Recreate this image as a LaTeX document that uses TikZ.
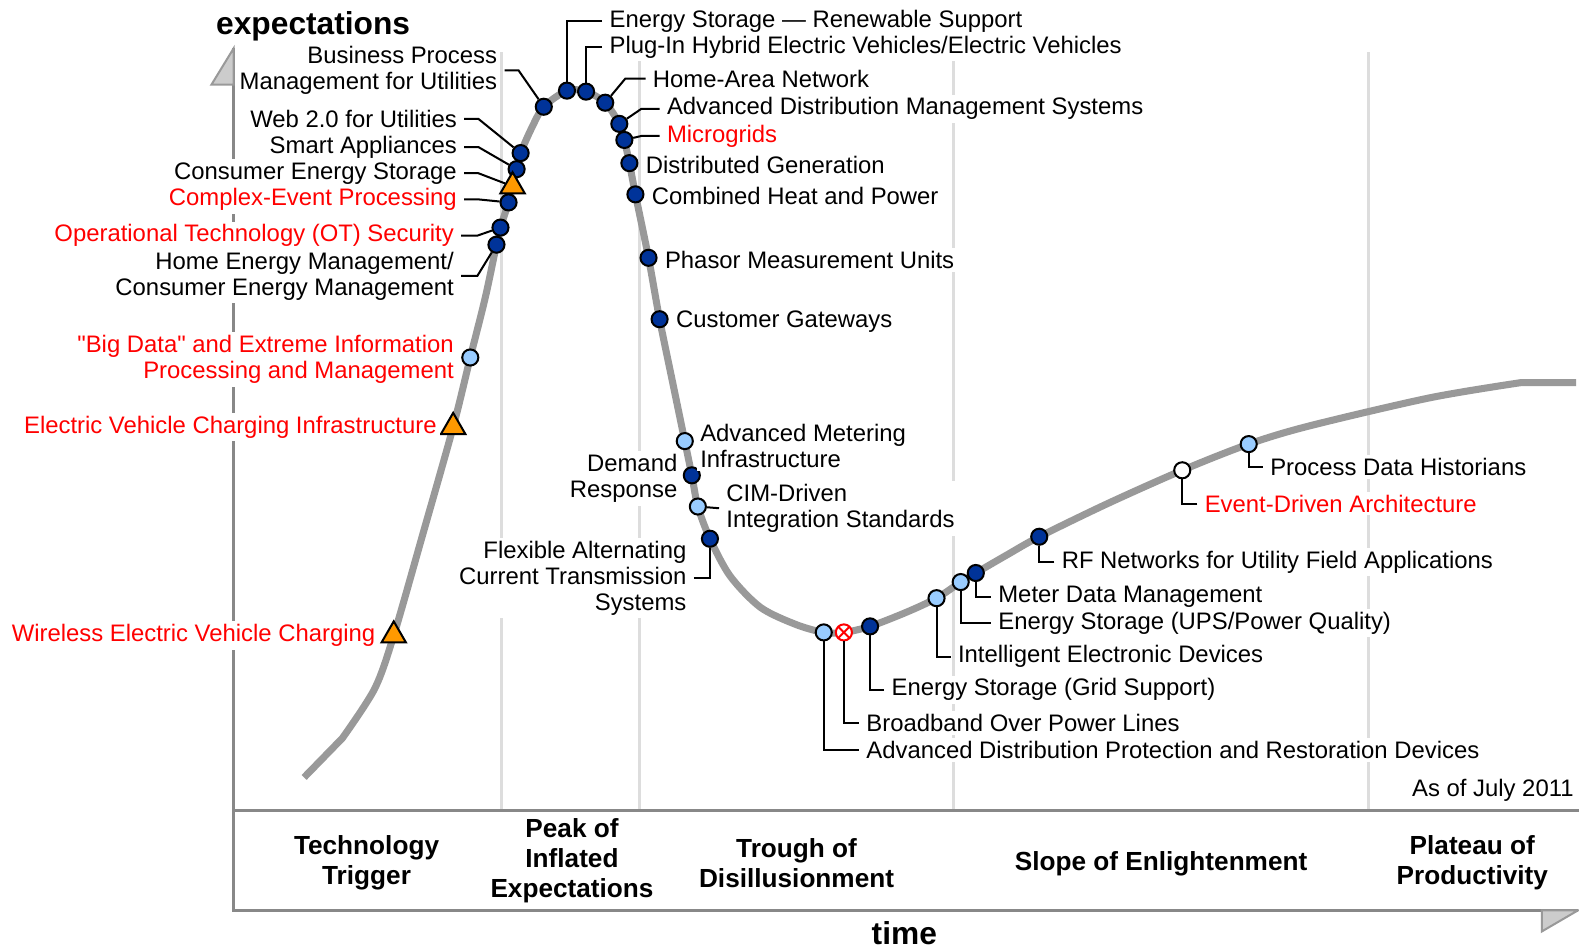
\documentclass[tikz,border=0pt]{standalone}
\usepackage{fontspec}
\setmainfont{Liberation Sans}[Ligatures=TeXOff]
\usepackage{tikz}
\usetikzlibrary{positioning,shapes.geometric}
\definecolor{curvegray}{HTML}{999999}
\definecolor{gridgray}{HTML}{DDDDDD}
\definecolor{axisgray}{HTML}{888888}
\definecolor{headgray}{HTML}{CCCCCC}
\definecolor{darkblue}{HTML}{003399}
\definecolor{lightblue}{HTML}{99CCFF}
\definecolor{hypeorange}{HTML}{FF9900}
\definecolor{hypered}{HTML}{FF0000}

\begin{document}
\begin{tikzpicture}[x=0.5pt,y=-0.5pt,
	lbl/.style={font=\fontsize{11.85}{13}\selectfont,fill=white,inner sep=1.5pt,yshift=-1pt},
	hot/.style={lbl,text=hypered},
	phase/.style={font=\fontsize{13}{15}\selectfont\bfseries,align=center,inner sep=0pt,yshift=-1.5pt},
	axtitle/.style={font=\fontsize{15.75}{18}\selectfont\bfseries,inner sep=0pt},
	link/.style={draw=black,line width=1pt,shorten <=2pt},
	dot/.style={circle,draw=black,line width=1pt,minimum size=8pt,inner sep=0pt},
	tenyr/.style={dot,fill=darkblue},
	fiveyr/.style={dot,fill=lightblue},
	twoyr/.style={dot,fill=white},
	moreyr/.style={regular polygon,regular polygon sides=3,draw=black,line width=1pt,fill=hypeorange,minimum size=14pt,inner sep=0pt},
	obsolete/.style={dot,draw=hypered,fill=white,path picture={\draw[hypered,line width=1pt] (path picture bounding box.north west) -- (path picture bounding box.south east) (path picture bounding box.south west) -- (path picture bounding box.north east);}},
	gridline/.style={draw=gridgray,line width=1.5pt},
	axis/.style={draw=axisgray,line width=1.5pt},
	axishead/.style={draw=curvegray,fill=headgray,line width=1pt,line join=miter},
	hypecurve/.style={draw=curvegray,line width=3.5pt}
	]
	\useasboundingbox (0,0) rectangle (1568,942);

	\foreach \gx in {498,635,947,1359}
		\draw[gridline] (\gx,52) -- (\gx,805);
	\draw[axis] (232,48) -- (232,904) -- (1567,904);
	\draw[axis] (232,805) -- (1568,805);
	\filldraw[axishead] (232,48) -- (210,84) -- (232,84) -- cycle;
	\filldraw[axishead] (1567,904) -- (1531,925) -- (1531,904) -- cycle;

	\draw[hypecurve] (302,772) -- (340,733) -- plot[smooth,tension=0.5] coordinates {(340,733) (372,684) (391,631) (420,530) (450,424) (467,355) (482,295) (493,243) (497,226) (505,201) (509,185) (513,168) (517,152) (528,127) (540,106) (563,90) (582,91) (601,102) (615,123) (620,139) (625,162) (631,193) (644,256) (655,317) (668,380) (680,438) (687,472) (693,503) (705,535) (725,572) (755,603) (790,620) (818,628) (838,628) (864,622) (900,608) (930,594) (954,578) (969,569) (1000,551) (1032,533) (1100,500) (1174,467) (1240,441) (1300,423) (1420,395) (1510,380)} -- (1565,380);

	\node[axtitle] (ylab) at (311,26) {expectations};
	\node[axtitle] (xlab) at (898,927) {time};
	\node[lbl,anchor=east,fill=none] (asof) at (1566,783) {As of July 2011};

	\node[phase] (trigger) at (364,854) {Technology\\Trigger};
	\node[phase] (peak) at (568,852) {Peak of\\Inflated\\Expectations};
	\node[phase] (trough) at (791,854) {Trough of\\Disillusionment};
	\node[phase] (slope) at (1153,855) {Slope of Enlightenment};
	\node[phase] (plateau) at (1462,854) {Plateau of\\Productivity};

	\node[tenyr] (m1) at (540,106) {};
	\node[tenyr] (m2) at (517,152) {};
	\node[tenyr] (m3) at (513,168) {};
	\node[moreyr] (m4) at (509,185) {};
	\node[tenyr] (m5) at (505,201) {};
	\node[tenyr] (m6) at (497,226) {};
	\node[tenyr] (m7) at (493,243) {};
	\node[fiveyr] (m8) at (467,355) {};
	\node[moreyr] (m9) at (450,424) {};
	\node[moreyr] (m10) at (391,631) {};
	\node[tenyr] (m11) at (563,90) {};
	\node[tenyr] (m12) at (582,91) {};
	\node[tenyr] (m13) at (601,102) {};
	\node[tenyr] (m14) at (615,123) {};
	\node[tenyr] (m15) at (620,139) {};
	\node[tenyr] (m16) at (625,162) {};
	\node[tenyr] (m17) at (631,193) {};
	\node[tenyr] (m18) at (644,256) {};
	\node[tenyr] (m19) at (655,317) {};
	\node[fiveyr] (m20) at (680,438) {};
	\node[tenyr] (m21) at (687,472) {};
	\node[fiveyr] (m22) at (693,503) {};
	\node[tenyr] (m23) at (705,535) {};
	\node[fiveyr] (m24) at (818,628) {};
	\node[obsolete] (m25) at (838,628) {};
	\node[tenyr] (m26) at (864,622) {};
	\node[fiveyr] (m27) at (930,594) {};
	\node[fiveyr] (m28) at (954,578) {};
	\node[tenyr] (m29) at (969,569) {};
	\node[tenyr] (m30) at (1032,533) {};
	\node[twoyr] (m31) at (1174,467) {};
	\node[fiveyr] (m32) at (1240,441) {};

	\node[lbl,anchor=east,align=right] (l1) at (497,68) {Business Process\\Management for Utilities};
	\node[lbl,anchor=east] (l2) at (457,116) {Web 2.0 for Utilities};
	\node[lbl,anchor=east] (l3) at (457,144) {Smart Appliances};
	\node[lbl,anchor=east] (l4) at (457,170) {Consumer Energy Storage};
	\node[hot,anchor=east] (l5) at (457,196) {Complex-Event Processing};
	\node[hot,anchor=east] (l6) at (454,232) {Operational Technology (OT) Security};
	\node[lbl,anchor=east,align=right] (l7) at (454,272) {Home Energy Management/\\Consumer Energy Management};
	\node[hot,anchor=east,align=right] (l8) at (454,355) {"Big Data" and Extreme Information\\Processing and Management};
	\node[hot,anchor=east] (l9) at (437,422) {Electric Vehicle Charging Infrastructure};
	\node[hot,anchor=east] (l10) at (376,629) {Wireless Electric Vehicle Charging};
	\node[lbl,anchor=west] (l11) at (602,19) {Energy Storage — Renewable Support};
	\node[lbl,anchor=west] (l12) at (602,45) {Plug-In Hybrid Electric Vehicles/Electric Vehicles};
	\node[lbl,anchor=west] (l13) at (645,76) {Home-Area Network};
	\node[lbl,anchor=west] (l14) at (659,106) {Advanced Distribution Management Systems};
	\node[hot,anchor=west] (l15) at (659,133) {Microgrids};
	\node[lbl,right=2pt of m16] (l16) {Distributed Generation};
	\node[lbl,right=2pt of m17] (l17) {Combined Heat and Power};
	\node[lbl,right=2pt of m18] (l18) {Phasor Measurement Units};
	\node[lbl,right=2pt of m19] (l19) {Customer Gateways};
	\node[lbl,anchor=west,align=left] (l20) at (692,441) {Advanced Metering\\Infrastructure};
	\node[lbl,anchor=east,align=right] (l21) at (676,473) {Demand\\Response};
	\node[lbl,anchor=west,align=left] (l22) at (718,503) {CIM-Driven\\Integration Standards};
	\node[lbl,anchor=east,align=right] (l23) at (685,572) {Flexible Alternating\\Current Transmission\\Systems};
	\node[lbl,anchor=west] (l24) at (857,743) {Advanced Distribution Protection and Restoration Devices};
	\node[lbl,anchor=west] (l25) at (857,716) {Broadband Over Power Lines};
	\node[lbl,anchor=west] (l26) at (882,683) {Energy Storage (Grid Support)};
	\node[lbl,anchor=west] (l27) at (948,650) {Intelligent Electronic Devices};
	\node[lbl,anchor=west] (l28) at (988,617) {Energy Storage (UPS/Power Quality)};
	\node[lbl,anchor=west] (l29) at (988,591) {Meter Data Management};
	\node[lbl,anchor=west] (l30) at (1051,556) {RF Networks for Utility Field Applications};
	\node[hot,anchor=west] (l31) at (1193,498) {Event-Driven Architecture};
	\node[lbl,anchor=west] (l32) at (1258,462) {Process Data Historians};

	\draw[link] (l1.east) -- ++(18,0) -- (m1);
	\draw[link] (l2.east) -- ++(18,0) -- (m2);
	\draw[link] (l3.east) -- ++(18,0) -- (m3);
	\draw[link] (l4.east) -- ++(18,0) -- (m4);
	\draw[link] (l5.east) -- ++(18,0) -- (m5);
	\draw[link] (l6.east) -- ++(20,0) -- (m6);
	\draw[link] (l7.east) -- ++(20,0) -- (m7);
	\draw[link] (l11.west) -| (m11);
	\draw[link] (l12.west) -| (m12);
	\draw[link] (l13.west) -- ++(-24,0) -- (m13);
	\draw[link] (l14.west) -- ++(-22,0) -- (m14);
	\draw[link] (l15.west) -- ++(-22,0) -- (m15);
	\draw[link] (l22.west) -- (m22);
	\draw[link] (l23.east) -| (m23);
	\draw[link] (l24.west) -| (m24);
	\draw[link] (l25.west) -| (m25);
	\draw[link] (l26.west) -| (m26);
	\draw[link] (l27.west) -| (m27);
	\draw[link] (l28.west) -| (m28);
	\draw[link] (l29.west) -| (m29);
	\draw[link] (l30.west) -| (m30);
	\draw[link] (l31.west) -| (m31);
	\draw[link] (l32.west) -| (m32);
\end{tikzpicture}
\end{document}
